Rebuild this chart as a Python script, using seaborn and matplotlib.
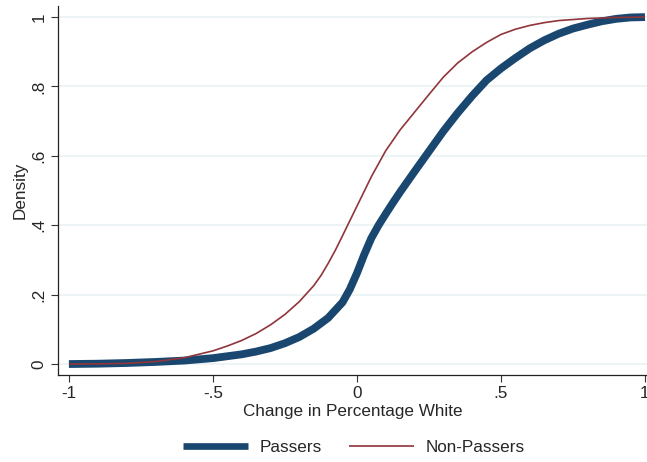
import numpy as np
import pandas as pd
import matplotlib
matplotlib.use("Agg")
import matplotlib.pyplot as plt
import seaborn as sns

# Cumulative distribution
passers_x = [-1.0, -0.9, -0.8, -0.7, -0.6, -0.5, -0.4, -0.35, -0.3, -0.25, -0.2, -0.15,
             -0.1, -0.05, -0.025, 0.0, 0.025, 0.05, 0.075, 0.1, 0.125, 0.15, 0.2, 0.25, 0.3,
             0.35, 0.4, 0.45, 0.5, 0.55, 0.6, 0.65, 0.7, 0.75, 0.8, 0.85, 0.9, 0.95, 1.0]
passers_y = [0.0, 0.001, 0.003, 0.006, 0.010, 0.017, 0.028, 0.036, 0.046, 0.060, 0.078, 0.102,
             0.133, 0.178, 0.215, 0.262, 0.315, 0.363, 0.40, 0.433, 0.465, 0.496, 0.555, 0.613, 0.671,
             0.724, 0.773, 0.818, 0.852, 0.882, 0.91, 0.933, 0.952, 0.967, 0.978, 0.988, 0.995, 0.999, 1.0]

nonpass_x = [-1.0, -0.9, -0.8, -0.7, -0.6, -0.5, -0.45, -0.4, -0.35, -0.3, -0.25, -0.2,
             -0.15, -0.125, -0.1, -0.075, -0.05, 0.0, 0.05, 0.1, 0.15, 0.2, 0.25, 0.3, 0.35, 0.4,
             0.45, 0.5, 0.55, 0.6, 0.65, 0.7, 0.8, 0.9, 1.0]
nonpass_y = [0.0, 0.0005, 0.002, 0.007, 0.018, 0.038, 0.052, 0.068, 0.088, 0.113, 0.143, 0.18,
             0.226, 0.255, 0.29, 0.328, 0.37, 0.455, 0.54, 0.615, 0.675, 0.726, 0.777, 0.827, 0.868, 0.9,
             0.927, 0.95, 0.965, 0.976, 0.984, 0.99, 0.996, 0.999, 1.0]

yticks = [0, 0.2, 0.4, 0.6, 0.8, 1.0]
ytick_labels = ["0", ".2", ".4", ".6", ".8", "1"]
xticks = [-1, -0.5, 0, 0.5, 1]
xtick_labels = ["-1", "-.5", "0", ".5", "1"]

df = pd.concat([
    pd.DataFrame({"x": passers_x, "y": passers_y, "group": "Passers"}),
    pd.DataFrame({"x": nonpass_x, "y": nonpass_y, "group": "Non-Passers"}),
])

sns.set_style("white")
plt.rcParams["font.family"] = ["Liberation Sans", "DejaVu Sans"]
plt.rcParams["lines.solid_capstyle"] = "butt"
plt.rcParams["lines.solid_joinstyle"] = "round"

fig = plt.figure(figsize=(6.47, 4.62), dpi=100)
ax = fig.add_axes([0.0896, 0.188, 0.9104, 0.799])

sns.lineplot(data=df, x="x", y="y", hue="group", size="group",
             palette={"Passers": "#1a476f", "Non-Passers": "#90353b"},
             sizes={"Passers": 5.6, "Non-Passers": 1.2},
             estimator=None, sort=False, ax=ax, legend=False)

ax.set_xlim(-1.038, 1.007)
ax.set_ylim(-0.032, 1.032)
ax.set_yticks(yticks)
ax.set_yticklabels(ytick_labels, rotation=90, va="center")
ax.set_xticks(xticks)
ax.set_xticklabels(xtick_labels)
ax.tick_params(axis="both", direction="out", length=5, width=0.8, color="#333333",
               labelsize=12.3, pad=3, left=True, bottom=True)
ax.yaxis.grid(True, color="#eaf2f3", linewidth=1.2)
ax.set_axisbelow(True)
sns.despine(ax=ax)
for s in ["left", "bottom"]:
    ax.spines[s].set_color("#222222")
    ax.spines[s].set_linewidth(0.9)

ax.set_xlabel("Change in Percentage White", fontsize=12.3, labelpad=2)
ax.set_ylabel("Density", fontsize=12.3, labelpad=3)

handles = [plt.Line2D([], [], color="#1a476f", lw=4.8, solid_capstyle="butt"),
           plt.Line2D([], [], color="#90353b", lw=1.2)]
fig.legend(handles, ["Passers", "Non-Passers"], loc="center", bbox_to_anchor=(0.547, 0.031),
           ncol=2, frameon=False, fontsize=12.3, handlelength=3.8, columnspacing=1.6,
           handletextpad=0.7)

fig.savefig("out.png", dpi=100)
